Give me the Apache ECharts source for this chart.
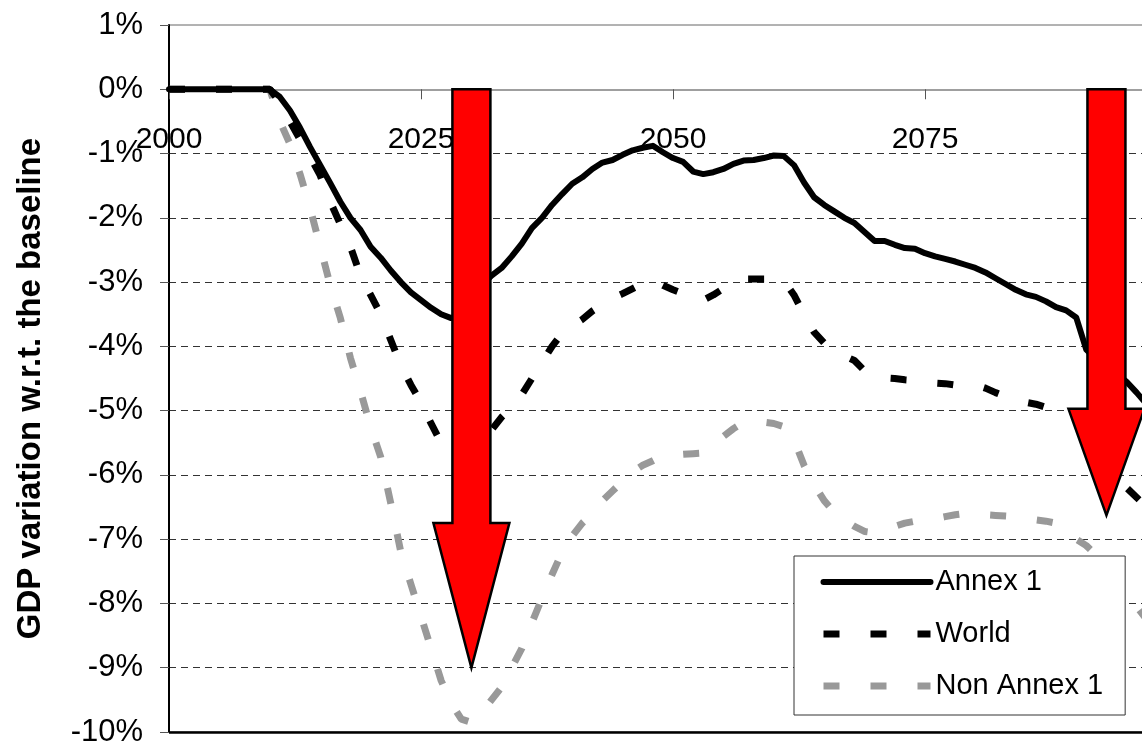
<!DOCTYPE html>
<html>
<head>
<meta charset="utf-8">
<script src="https://cdn.jsdelivr.net/npm/echarts@6/dist/echarts.min.js"></script>
<style>
html,body{margin:0;padding:0;background:#fff;overflow:hidden;width:1142px;height:744px;}
#chart{width:1200px;height:744px;}
</style>
</head>
<body>
<div id="chart"></div>
<script>
// ---- data ----
const startYear = 2000;
const endYear = 2100;
const seriesNames = ['Annex 1', 'World', 'Non Annex 1'];
const yTicks = [-10, 1]; // min / max (%)
const xTickLabels = ['2000', '2025', '2050', '2075', '2100'];

// values in %, one per year 2000..2100
const annex1 = [
  0,0,0,0,0,0,0,0,0,0,            // 2000-2009
  0,-0.12,-0.33,-0.6,-0.9,-1.18,-1.46,-1.75,-2.0,-2.19,   // 2010-2019
  -2.45,-2.62,-2.82,-3.0,-3.16,-3.28,-3.4,-3.5,-3.56,-3.5, // 2020-2029
  -3.3,-3.05,-2.9,-2.78,-2.6,-2.4,-2.16,-2.0,-1.8,-1.63,   // 2030-2039
  -1.47,-1.37,-1.24,-1.14,-1.1,-1.02,-0.95,-0.91,-0.88,-0.98, // 2040-2049
  -1.07,-1.13,-1.28,-1.32,-1.29,-1.24,-1.16,-1.11,-1.1,-1.07, // 2050-2059
  -1.03,-1.04,-1.18,-1.45,-1.68,-1.8,-1.9,-2.0,-2.08,-2.22,  // 2060-2069
  -2.36,-2.36,-2.42,-2.47,-2.48,-2.55,-2.6,-2.64,-2.68,-2.73, // 2070-2079
  -2.78,-2.85,-2.94,-3.03,-3.12,-3.19,-3.23,-3.3,-3.39,-3.44, // 2080-2089
  -3.55,-4.05,-4.2,-4.3,-4.42,-4.55,-4.72,-4.9,-5.05,-5.2,   // 2090-2099
  -5.35                                                       // 2100
];
const world = [
  0,0,0,0,0,0,0,0,0,0,
  0,-0.2,-0.5,-0.78,-1.05,-1.34,-1.75,-2.1,-2.45,-2.9,
  -3.2,-3.5,-3.9,-4.3,-4.6,-4.87,-5.2,-5.5,-5.7,-5.7,
  -5.65,-5.5,-5.3,-5.1,-4.95,-4.75,-4.5,-4.25,-4.0,-3.8,
  -3.68,-3.58,-3.45,-3.35,-3.25,-3.18,-3.1,-3.02,-2.97,-3.05,
  -3.12,-3.18,-3.27,-3.28,-3.2,-3.1,-3.0,-2.95,-2.95,-2.95,
  -2.95,-2.98,-3.2,-3.5,-3.78,-3.95,-4.07,-4.15,-4.22,-4.38,
  -4.48,-4.49,-4.5,-4.52,-4.53,-4.55,-4.57,-4.58,-4.6,-4.6,
  -4.6,-4.65,-4.72,-4.78,-4.83,-4.87,-4.9,-4.95,-5.0,-5.05,
  -5.1,-5.5,-5.8,-6.0,-6.1,-6.2,-6.35,-6.5,-6.65,-6.8,
  -6.95
];
const nonAnnex1 = [
  0,0,0,0,0,0,0,0,0,0,
  0,-0.5,-0.85,-1.32,-1.85,-2.45,-3.05,-3.56,-4.18,-4.7,
  -5.25,-5.72,-6.44,-7.2,-7.7,-8.2,-8.7,-9.2,-9.55,-9.8,
  -9.85,-9.7,-9.5,-9.3,-9.0,-8.7,-8.3,-7.92,-7.55,-7.2,
  -6.95,-6.75,-6.6,-6.4,-6.25,-6.1,-5.95,-5.85,-5.78,-5.7,
  -5.69,-5.68,-5.67,-5.66,-5.55,-5.4,-5.28,-5.18,-5.17,-5.18,
  -5.2,-5.25,-5.45,-5.85,-6.15,-6.4,-6.58,-6.7,-6.8,-6.88,
  -6.9,-6.85,-6.8,-6.75,-6.72,-6.7,-6.68,-6.65,-6.62,-6.6,
  -6.6,-6.62,-6.63,-6.64,-6.65,-6.67,-6.7,-6.72,-6.75,-6.85,
  -7.0,-7.1,-7.25,-7.45,-7.65,-7.84,-8.05,-8.25,-8.45,-8.6,
  -8.75
];
// red arrow annotations: [year, tip value %]
const arrowYears = [2030, 2093];
const arrowTips = [-9.0, -6.63];

// ---- build ----
function toPairs(vals) {
  return vals.map((v, i) => [startYear + i, v]);
}
const FONT = '"Liberation Sans", Arial, sans-serif';
const chart = echarts.init(document.getElementById('chart'), null, {renderer: 'canvas'});
const gridColors = [];
for (let v = yTicks[0]; v <= yTicks[1]; v++) {
  gridColors.push((v === yTicks[0] || v >= 0) ? 'rgba(0,0,0,0)' : '#333');
}
const dash = [16, 31];
const option = {
  animation: false,
  backgroundColor: '#fff',
  textStyle: {fontFamily: FONT},
  grid: [
    {left: 169, right: 23, top: 25, bottom: 12, show: true, borderColor: '#666', borderWidth: 1,
     backgroundColor: 'transparent', containLabel: false, outerBoundsMode: 'none'},
    // helper grid whose bottom edge is the 0% line: carries the year labels
    {left: 169, right: 23, top: 25, bottom: 655, show: false, containLabel: false, outerBoundsMode: 'none'}
  ],
  xAxis: [{
    gridIndex: 0, type: 'value', min: startYear, max: endYear, interval: 25,
    axisLine: {onZero: true, lineStyle: {color: '#808080', width: 1.5}},
    axisTick: {show: true, length: 10, lineStyle: {color: '#555', width: 1}},
    axisLabel: {show: false},
    splitLine: {show: false}
  }, {
    gridIndex: 1, type: 'value', min: startYear, max: endYear, interval: 25, position: 'bottom',
    axisLine: {show: false, onZero: false}, axisTick: {show: false},
    axisLabel: {
      show: true, color: '#000', fontSize: 30, fontFamily: FONT, margin: 36,
      showMinLabel: true, showMaxLabel: true, hideOverlap: false,
      formatter: (v) => xTickLabels[Math.round((v - startYear) / 25)]
    },
    splitLine: {show: false}
  }],
  yAxis: [{
    gridIndex: 0, type: 'value', min: yTicks[0], max: yTicks[1], interval: 1,
    name: 'GDP variation w.r.t. the baseline', nameLocation: 'middle', nameGap: 122,
    nameTextStyle: {fontSize: 33, fontWeight: 'bold', color: '#000', fontFamily: FONT, padding: [0, 20, 0, 0]},
    axisLine: {show: true, onZero: false, lineStyle: {color: '#000', width: 2}},
    axisTick: {show: true, length: 9, lineStyle: {color: '#555', width: 1}},
    axisLabel: {color: '#000', fontSize: 31, fontFamily: FONT, margin: 26, formatter: '{value}%', hideOverlap: false},
    splitLine: {show: true, lineStyle: {color: gridColors, type: [7, 5], width: 1}}
  }, {
    gridIndex: 1, type: 'value', min: 0, max: 1, show: false
  }],
  legend: {
    data: seriesNames,
    orient: 'vertical', left: 794, top: 556,
    padding: [11, 22, 14, 26],
    itemWidth: 107, itemHeight: 6, itemGap: 22,
    backgroundColor: '#fff', borderColor: '#333', borderWidth: 1,
    textStyle: {fontSize: 29, color: '#000', fontFamily: FONT, lineHeight: 30},
    selectedMode: false,
    itemStyle: {opacity: 0},
    lineStyle: {width: 'inherit', type: 'inherit', color: 'inherit'}
  },
  series: [
    {name: seriesNames[0], type: 'line', data: toPairs(annex1), symbol: 'none', z: 3,
     lineStyle: {color: '#000', width: 6, cap: 'round', join: 'round'}, itemStyle: {color: '#000'},
     markLine: {silent: true, symbol: 'none', label: {show: false}, animation: false,
                lineStyle: {color: '#000', width: 2.5, type: 'solid'}, data: [{yAxis: yTicks[0]}]}},
    {name: seriesNames[1], type: 'line', data: toPairs(world), symbol: 'none', z: 3,
     lineStyle: {color: '#000', width: 7, type: dash, cap: 'butt'}, itemStyle: {color: '#000'}},
    {name: seriesNames[2], type: 'line', data: toPairs(nonAnnex1), symbol: 'none', z: 2,
     lineStyle: {color: '#999', width: 7, type: dash, cap: 'butt'}, itemStyle: {color: '#999'}},
    {name: 'arrows', type: 'custom', z: 5, clip: false,
     data: arrowYears.map((y, i) => [y, arrowTips[i]]),
     renderItem: function (params, api) {
       const top = api.coord([api.value(0), 0]);
       const tip = api.coord([api.value(0), api.value(1)]);
       const cx = top[0];
       const len = tip[1] - top[1];
       const headBase = tip[1] - len * 0.25;
       const sw = 19, hw = 38;
       return {
         type: 'polygon',
         shape: {points: [[cx - sw, top[1]], [cx + sw, top[1]], [cx + sw, headBase], [cx + hw, headBase],
                          [cx, tip[1]], [cx - hw, headBase], [cx - sw, headBase]]},
         style: {fill: '#ff0000', stroke: '#000', lineWidth: 2.5, lineJoin: 'miter'}
       };
     }}
  ]
};
chart.setOption(option);
</script>
</body>
</html>
